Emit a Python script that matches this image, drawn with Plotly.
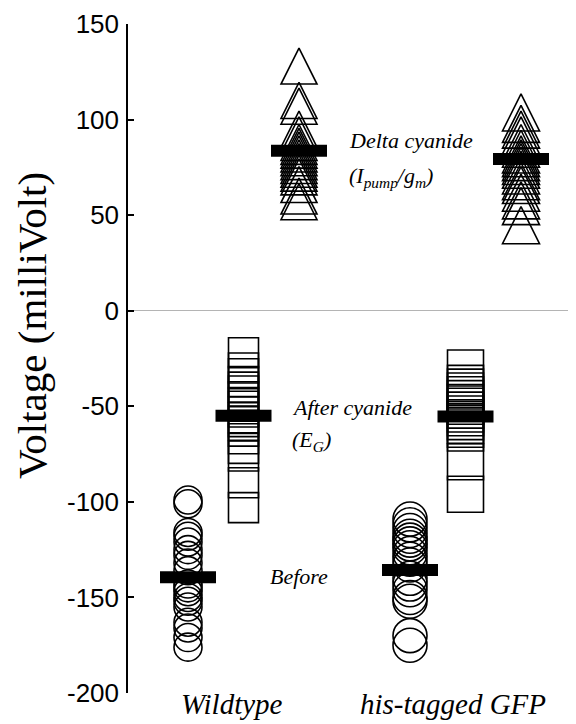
import plotly.graph_objects as go

# ---------------- data ----------------
groups = ["Wildtype", "his-tagged GFP"]
conditions = ["Before", "After cyanide", "Delta cyanide"]

wt_before = [-99, -101, -116, -118, -121, -125, -128, -132, -136, -143,
             -145, -147, -150, -152, -155, -163, -166, -171, -176]
wt_after = [-22, -30, -33, -37, -40, -42, -45, -48, -50, -53,
            -56, -58, -60, -63, -67, -72, -76, -90, -103]
wt_delta = [128, 110, 107, 95, 92, 88, 86, 84, 82, 80,
            78, 76, 74, 72, 70, 66, 60, 57]

his_before = [-109, -112, -115, -118, -120, -122, -124, -127, -130, -133,
              -140, -143, -146, -150, -152, -170, -175]
his_after = [-30, -38, -40, -42, -44, -46, -48, -50, -52, -54,
             -56, -58, -60, -62, -64, -79, -96]
his_delta = [104, 98, 95, 92, 88, 85, 82, 80, 78, 76,
             74, 71, 68, 66, 62, 58, 55, 45]

wt_means = [-139.5, -55.0, 83.7]
his_means = [-135.7, -55.4, 79.4]

y_ticks = [-200, -150, -100, -50, 0, 50, 100, 150]
y_tick_labels = ["-200", "-150", "-100", "-50", "0", "50", "100", "150"]

# ---------------- layout constants ----------------
# the page body has an 8px margin, so the figure is drawn 8px smaller
BODY = 8
W, H = 576 - BODY, 724 - BODY
ML, MR, MT, MB = 128 - BODY, 0, 24 - BODY, 724 - 693
Y_RANGE = [-200, 150]
plot_h = H - MT - MB
plot_w = W - ML - MR
px_per_unit = plot_h / (Y_RANGE[1] - Y_RANGE[0])

group_x = {"Wildtype": 0, "his-tagged GFP": 4}
cond_off = {"Before": 0, "After cyanide": 1, "Delta cyanide": 2}

data = {
    "Wildtype": [wt_before, wt_after, wt_delta],
    "his-tagged GFP": [his_before, his_after, his_delta],
}
means = {"Wildtype": wt_means, "his-tagged GFP": his_means}

sizes = {
    "Wildtype": {"Before": 28, "After cyanide": 30, "Delta cyanide": 36},
    "his-tagged GFP": {"Before": 34, "After cyanide": 36, "Delta cyanide": 37},
}
symbols = {"Before": "circle-open", "After cyanide": "square-open",
           "Delta cyanide": "arrow-up-open"}

# arrow-up symbol has its apex at the data point; shift an overlay axis so
# the triangle's centre sits on the value
tri_size = 36
tri_shift = (tri_size / 2) / px_per_unit

fig = go.Figure()

for g in groups:
    for ci, c in enumerate(conditions):
        vals = data[g][ci]
        xpos = group_x[g] + cond_off[c]
        fig.add_trace(go.Scatter(
            x=[xpos] * len(vals), y=vals, mode="markers",
            yaxis="y2" if c == "Delta cyanide" else "y",
            marker=dict(symbol=symbols[c], size=sizes[g][c], color="black",
                        line=dict(width=1.6, color="black")),
            showlegend=False, hoverinfo="y"))

for g in groups:
    fig.add_trace(go.Scatter(
        x=[group_x[g] + cond_off[c] for c in conditions], y=means[g],
        mode="markers",
        marker=dict(symbol="line-ew", size=40, color="black",
                    line=dict(width=12, color="black")),
        showlegend=False, hoverinfo="y"))

x_per_px = 1 / 55.5
x_left = 0 - (188 - 128) * x_per_px
x_right = x_left + plot_w * x_per_px

serif = "Liberation Serif"
sans = "Liberation Sans"

annotations = [
    dict(text="Voltage (milliVolt)", textangle=-90, xref="paper", yref="paper",
         x=(32 - 128) / plot_w, y=(693 - 326) / plot_h,
         xanchor="center", yanchor="middle", showarrow=False,
         font=dict(family=serif, size=41, color="black")),
    dict(text="<i>Delta cyanide</i>", x=2.86, y=89, xref="x", yref="y",
         xanchor="left", yanchor="middle", showarrow=False,
         font=dict(family=serif, size=22, color="black")),
    dict(text="<i>(I<sub>pump</sub>/g<sub>m</sub>)</i>", x=2.86, y=70,
         xref="x", yref="y", xanchor="left", yanchor="middle", showarrow=False,
         font=dict(family=serif, size=22, color="black")),
    dict(text="<i>After cyanide</i>", x=1.84, y=-50.5, xref="x", yref="y",
         xanchor="left", yanchor="middle", showarrow=False,
         font=dict(family=serif, size=22, color="black")),
    dict(text="<i>(E<sub>G</sub>)</i>", x=1.84, y=-68, xref="x", yref="y",
         xanchor="left", yanchor="middle", showarrow=False,
         font=dict(family=serif, size=22, color="black")),
    dict(text="<i>Before</i>", x=1.44, y=-139, xref="x", yref="y",
         xanchor="left", yanchor="middle", showarrow=False,
         font=dict(family=serif, size=22, color="black")),
]
label_x = {"Wildtype": 0.80, "his-tagged GFP": 4.78}
for g in groups:
    annotations.append(dict(
        text="<i>%s</i>" % g, x=label_x[g], y=0, xref="x", yref="paper",
        xanchor="center", yanchor="top", yshift=6, borderpad=0,
        showarrow=False,
        font=dict(family=serif, size=29, color="black")))

fig.update_layout(
    template="none",
    width=W, height=H,
    margin=dict(l=ML, r=MR, t=MT, b=MB, pad=0, autoexpand=False),
    paper_bgcolor="white", plot_bgcolor="white",
    showlegend=False,
    xaxis=dict(range=[x_left, x_right], showline=False, showgrid=False,
               zeroline=False, showticklabels=False, ticks="",
               automargin=False),
    yaxis=dict(range=Y_RANGE, tickvals=y_ticks, ticktext=y_tick_labels,
               ticks="inside", ticklen=6, automargin=False,
               tickwidth=1.5, tickcolor="black", showline=True,
               linecolor="black", linewidth=1.5, showgrid=False,
               zeroline=True, zerolinecolor="#b4b4b4", zerolinewidth=1,
               ticklabelstandoff=2,
               tickfont=dict(family=sans, size=26, color="black")),
    yaxis2=dict(range=[Y_RANGE[0] - tri_shift, Y_RANGE[1] - tri_shift],
                overlaying="y", visible=False, showgrid=False, zeroline=False,
                automargin=False),
    annotations=annotations,
)

fig.write_html("out.html")
